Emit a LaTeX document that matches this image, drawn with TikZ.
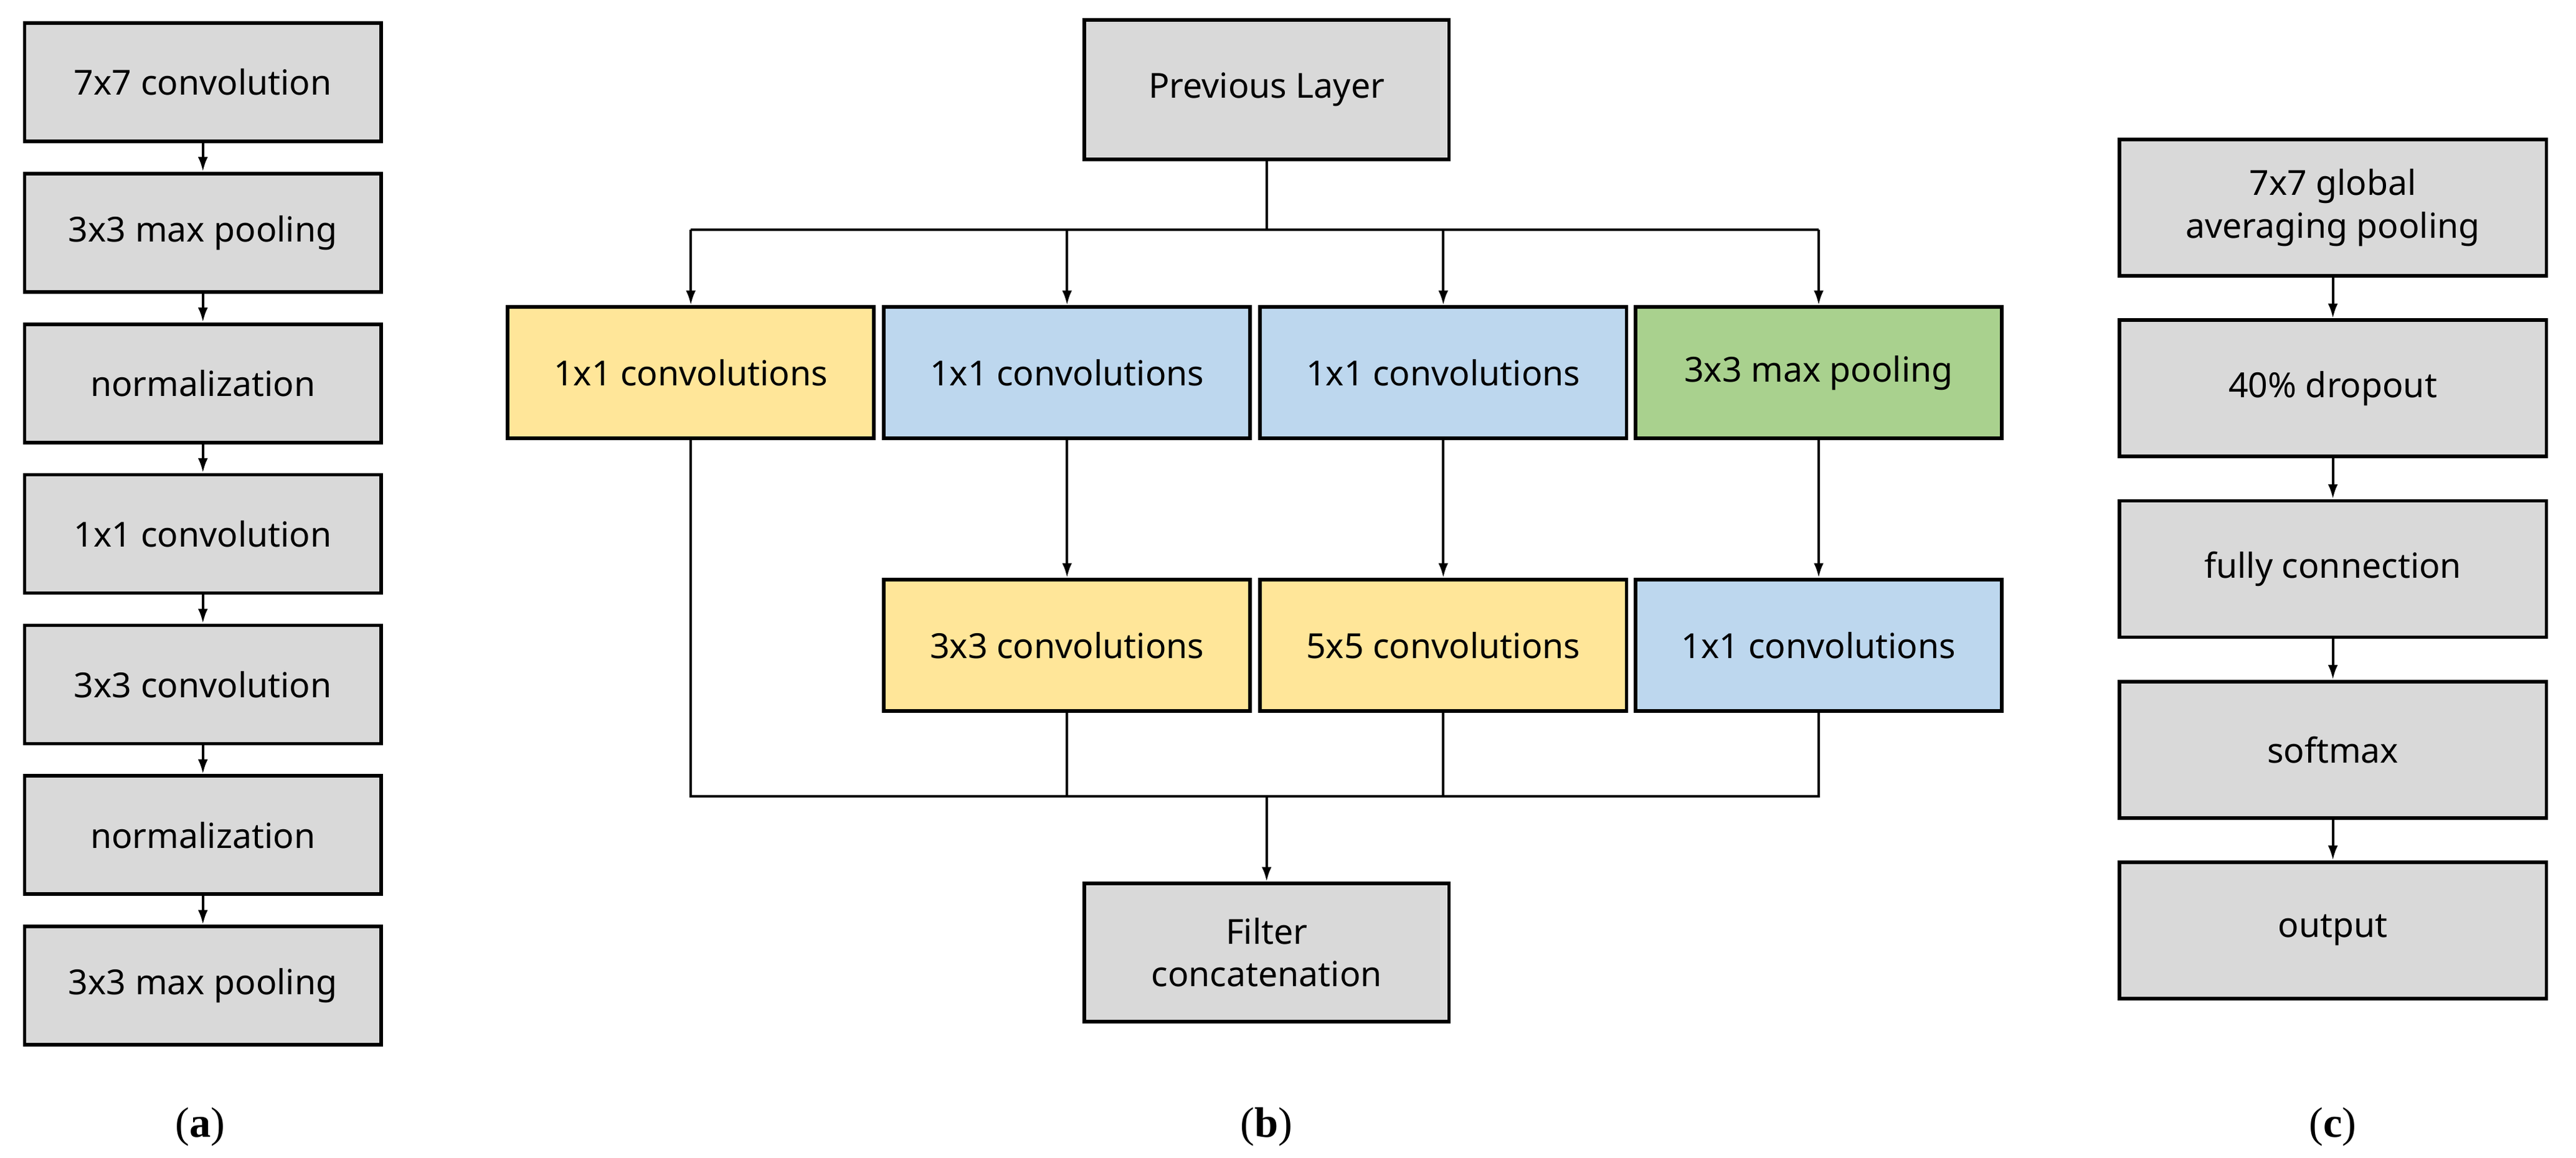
\documentclass[tikz,border=0pt]{standalone}
\usepackage{fontspec}
\setmainfont{Noto Sans}
\newfontfamily\capfont{Liberation Serif}
\usetikzlibrary{arrows.meta}
\definecolor{cgray}{HTML}{D9D9D9}
\definecolor{cyel}{HTML}{FFE699}
\definecolor{cblue}{HTML}{BDD7EE}
\definecolor{cgreen}{HTML}{A9D18E}
\begin{document}
\begin{tikzpicture}[x=1pt,y=-1pt,
 box/.style={draw=black,line width=2.2pt,inner sep=0pt,align=center,font=\fontsize{21}{26}\selectfont},
 a/.style={box,fill=cgray,minimum width=217pt,minimum height=72pt},
 b/.style={box,minimum width=223pt,minimum height=80pt},
 c/.style={box,fill=cgray,minimum width=260pt,minimum height=83pt},
 arr/.style={line width=1.6pt,-{Latex[length=9pt,width=6pt]}},
 ln/.style={line width=1.6pt},
 lab/.style={font=\capfont\fontsize{26}{30}\selectfont}]
\useasboundingbox (0,0) rectangle (1568,705);
% (a)
\foreach \i/\t in {1/7x7 convolution,2/3x3 max pooling,3/normalization,4/1x1 convolution,5/3x3 convolution,6/normalization,7/3x3 max pooling}
  \node[a] (a\i) at (123.5,{50+(\i-1)*91.7}) {\t};
\foreach \i [evaluate=\i as \j using int(\i+1)] in {1,...,6}
  \draw[arr] (a\i) -- (a\j);
\node[lab] (la) at (122,686) {(\textbf{a})};
% (b)
\node[b,fill=cgray,minimum width=222pt,minimum height=85pt] (prev) at (771,54.5) {Previous Layer};
\node[b,fill=cyel] (b1) at (420.5,227) {1x1 convolutions};
\node[b,fill=cblue] (b2) at (649.5,227) {1x1 convolutions};
\node[b,fill=cblue] (b3) at (878.5,227) {1x1 convolutions};
\node[b,fill=cgreen] (b4) at (1107,227) {3x3 max pooling};
\node[b,fill=cyel] (c2) at (649.5,393) {3x3 convolutions};
\node[b,fill=cyel] (c3) at (878.5,393) {5x5 convolutions};
\node[b,fill=cblue] (c4) at (1107,393) {1x1 convolutions};
\node[b,fill=cgray,minimum width=222pt,minimum height=84pt] (filt) at (771,580) {Filter\\concatenation};
\coordinate (sp) at (771,140);
\coordinate (mg) at (771,485);
\draw[ln] (prev.south) -- (sp);
\draw[ln] (b1.north |- sp) -- (b4.north |- sp);
\foreach \n in {b1,b2,b3,b4} \draw[arr] (\n.north |- sp) -- (\n.north);
\draw[arr] (b2) -- (c2);
\draw[arr] (b3) -- (c3);
\draw[arr] (b4) -- (c4);
\draw[ln] (b1.south) -- (b1.south |- mg) -- (c4.south |- mg) -- (c4.south);
\draw[ln] (c2.south) -- (c2.south |- mg);
\draw[ln] (c3.south) -- (c3.south |- mg);
\draw[arr] (mg) -- (filt.north);
\node[lab] (lb) at (771,686) {(\textbf{b})};
% (c)
\node[c] (d1) at (1420,126.5) {7x7 global\\averaging pooling};
\node[c] (d2) at (1420,236.5) {40\% dropout};
\node[c] (d3) at (1420,346.5) {fully connection};
\node[c] (d4) at (1420,456.5) {softmax};
\node[c] (d5) at (1420,566.5) {output};
\foreach \i [evaluate=\i as \j using int(\i+1)] in {1,...,4}
  \draw[arr] (d\i) -- (d\j);
\node[lab] (lc) at (1420,686) {(\textbf{c})};
\end{tikzpicture}
\end{document}
